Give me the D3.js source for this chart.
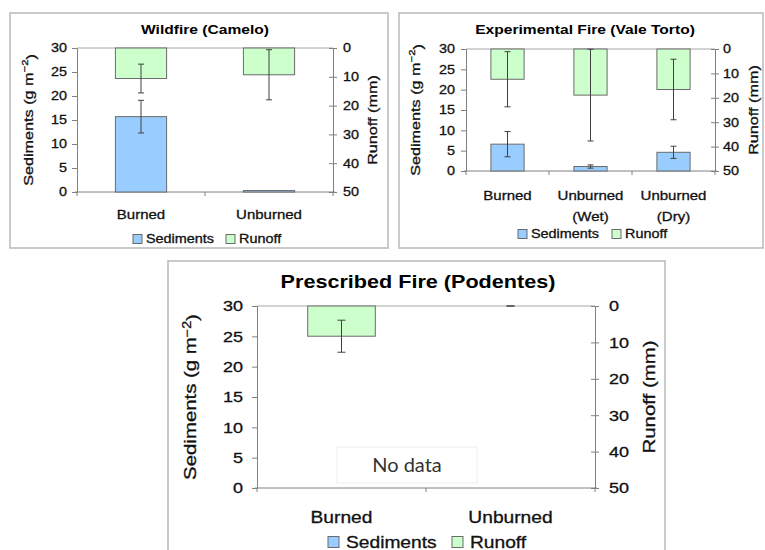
<!DOCTYPE html>
<html>
<head>
<meta charset="utf-8">
<script src="https://cdn.jsdelivr.net/npm/d3@7"></script>
<style>
  body { margin: 0; background: #fff; }
  svg { display: block; font-family: "Liberation Sans", Arial, sans-serif; }
  .lbl { stroke: #111; stroke-width: 0.3; }
</style>
</head>
<body>
<svg id="chart" width="765" height="550"></svg>
<script>
// data
var sedTicks = [0, 5, 10, 15, 20, 25, 30];
var runTicks = [0, 10, 20, 30, 40, 50];
var legendLabels = ["Sediments", "Runoff"];

var wildCats = [["Burned"], ["Unburned"]];
var wildSed = [15.7, 0.3];
var wildSedErr = [3.4, 0];
var wildRun = [10.6, 9.3];
var wildRunErr = [5.0, 8.7];

var expCats = [["Burned"], ["Unburned", "(Wet)"], ["Unburned", "(Dry)"]];
var expSed = [6.6, 1.1, 4.6];
var expSedErr = [3.1, 0.4, 1.5];
var expRun = [12.4, 18.9, 16.6];
var expRunErr = [11.3, 18.8, 12.4];

var presCats = [["Burned"], ["Unburned"]];
var presSed = [null, null];
var presSedErr = [null, null];
var presRun = [8.3, 0];
var presRunErr = [4.4, 0];

// the source text is drawn wide, so every label gets stretched along its baseline
var SX = 1.2;
var BLUE = "#99ccff", GREEN = "#ccffcc", AXIS = "#808080", ERR = "#404040";

var svg = d3.select("#chart");
svg.append("rect").attr("width", 765).attr("height", 550).attr("fill", "#fff");

function place(x, y, rot) {
    return "translate(" + x + "," + y + ")" + (rot ? " rotate(" + rot + ")" : "") + " scale(" + SX + ",1)";
}

function drawPanel(p) {
    var g = svg.append("g");

    g.append("rect")
        .attr("x", p.box[0]).attr("y", p.box[1])
        .attr("width", p.box[2] - p.box[0]).attr("height", p.box[3] - p.box[1])
        .attr("fill", "#fff").attr("stroke", "#bdbdbd").attr("stroke-width", 1.6);

    var x = d3.scaleBand().domain(d3.range(p.cats.length))
        .range([p.x0, p.x1]).paddingInner(0.6).paddingOuter(0.3);
    var ySed = d3.scaleLinear().domain([0, 30]).range([p.y1, p.y0]);
    var yRun = d3.scaleLinear().domain([0, 50]).range([p.y0, p.y1]);
    var step = (p.x1 - p.x0) / p.cats.length;

    // title
    g.append("text").attr("transform", place(p.titleX, p.titleY))
        .attr("text-anchor", "middle").attr("font-weight", "bold")
        .attr("font-size", p.fs.title).text(p.title);

    // top line (secondary category axis) and bottom category axis
    g.append("line").attr("x1", p.x0).attr("x2", p.x1).attr("y1", p.y0).attr("y2", p.y0)
        .attr("stroke", "#a8a8a8");
    g.append("line").attr("x1", p.x0 - 2).attr("x2", p.x1 + 2).attr("y1", p.y1).attr("y2", p.y1)
        .attr("stroke", AXIS);
    g.selectAll(".ctick").data(d3.range(p.cats.length + 1)).join("line")
        .attr("x1", function(i) { return p.x0 + i * step; })
        .attr("x2", function(i) { return p.x0 + i * step; })
        .attr("y1", p.y1).attr("y2", p.y1 + 4).attr("stroke", AXIS);

    // left axis
    var left = g.append("g").attr("transform", "translate(" + p.x0 + ",0)")
        .call(d3.axisLeft(ySed).tickValues(sedTicks).tickSize(5).tickPadding(p.padL));
    // right axis, reversed runoff
    var right = g.append("g").attr("transform", "translate(" + p.x1 + ",0)")
        .call(d3.axisRight(yRun).tickValues(runTicks).tickSize(4).tickPadding(p.padR));
    right.selectAll(".tick line").attr("x1", -4);

    [left, right].forEach(function(ax) {
        ax.select(".domain").attr("stroke", AXIS);
        ax.selectAll(".tick line").attr("stroke", AXIS);
        ax.selectAll(".tick text")
            .attr("class", "lbl")
            .attr("font-size", p.fs.tick).attr("font-family", null).attr("fill", "#111")
            .each(function() {
                var t = d3.select(this);
                var tx = +t.attr("x");
                t.attr("x", null).attr("transform", place(tx, 0));
            });
    });

    // axis titles
    var lt = g.append("text").attr("transform", place(p.leftTitleX, (p.y0 + p.y1) / 2, -90))
        .attr("class", "lbl")
        .attr("text-anchor", "middle").attr("dy", "0.35em")
        .attr("font-size", p.fs.axis).attr("fill", "#111");
    lt.append("tspan").text("Sediments (g m");
    lt.append("tspan").attr("dy", "-0.45em").attr("font-size", "70%").text("\u22122");
    lt.append("tspan").attr("dy", "0.45em").text(")");

    g.append("text").attr("transform", place(p.rightTitleX, (p.y0 + p.y1) / 2, -90))
        .attr("class", "lbl")
        .attr("text-anchor", "middle").attr("dy", "0.35em")
        .attr("font-size", p.fs.axis).attr("fill", "#111").text("Runoff (mm)");

    // sediment bars
    var sedIdx = d3.range(p.cats.length).filter(function(i) { return p.sed[i] != null; });
    g.selectAll(".sed").data(sedIdx).join("rect")
        .attr("x", function(i) { return x(i); })
        .attr("width", x.bandwidth())
        .attr("y", function(i) { return ySed(p.sed[i]); })
        .attr("height", function(i) { return ySed(0) - ySed(p.sed[i]); })
        .attr("fill", BLUE).attr("stroke", "#6b6b6b");

    // runoff bars hang from the top
    g.selectAll(".run").data(d3.range(p.cats.length)).join("rect")
        .attr("x", function(i) { return x(i); })
        .attr("width", x.bandwidth())
        .attr("y", yRun(0))
        .attr("height", function(i) { return yRun(p.run[i]) - yRun(0); })
        .attr("fill", GREEN).attr("stroke", "#6b6b6b")
        .attr("display", function(i) { return p.run[i] > 0 ? null : "none"; });

    // error bars
    function errBars(idx, vals, errs, scale, lo) {
        idx.forEach(function(i) {
            var cx = x(i) + x.bandwidth() / 2;
            var a = scale(Math.max(lo, vals[i] - errs[i]));
            var b = scale(vals[i] + errs[i]);
            g.append("line").attr("x1", cx).attr("x2", cx).attr("y1", a).attr("y2", b)
                .attr("stroke", ERR);
            [a, b].forEach(function(yy) {
                g.append("line").attr("x1", cx - p.cap).attr("x2", cx + p.cap)
                    .attr("y1", yy).attr("y2", yy).attr("stroke", ERR);
            });
        });
    }
    errBars(sedIdx.filter(function(i) { return p.sedErr[i] > 0; }), p.sed, p.sedErr, ySed, 0);
    errBars(d3.range(p.cats.length), p.run, p.runErr, yRun, 0);

    // category labels
    p.cats.forEach(function(lines, i) {
        var t = g.append("text").attr("transform", place(x(i) + x.bandwidth() / 2, p.catY))
            .attr("class", "lbl")
            .attr("text-anchor", "middle").attr("font-size", p.fs.cat).attr("fill", "#111");
        lines.forEach(function(s, k) {
            t.append("tspan").attr("x", 0).attr("dy", k ? p.catLine : 0).text(s);
        });
    });

    // legend
    var colors = [BLUE, GREEN];
    legendLabels.forEach(function(lab, k) {
        var lx = p.legX[k];
        g.append("rect").attr("x", lx).attr("y", p.legY - p.legSize / 2)
            .attr("width", p.legSize).attr("height", p.legSize)
            .attr("fill", colors[k]).attr("stroke", "#6b6b6b");
        g.append("text").attr("transform", place(lx + p.legSize + p.legGap, p.legY))
            .attr("class", "lbl")
            .attr("dy", "0.36em").attr("font-size", p.fs.leg).attr("fill", "#111").text(lab);
    });

    return { x: x, ySed: ySed, g: g };
}

drawPanel({
    title: "Wildfire (Camelo)", cats: wildCats,
    sed: wildSed, sedErr: wildSedErr, run: wildRun, runErr: wildRunErr,
    box: [10, 13, 388, 248], x0: 77, x1: 333, y0: 48, y1: 192,
    titleX: 205, titleY: 34, leftTitleX: 28, rightTitleX: 372,
    padL: 5, padR: 6, cap: 3, catY: 219, catLine: 21,
    legX: [133, 226], legY: 239, legSize: 9, legGap: 4,
    fs: { title: 13, tick: 12, axis: 13.5, cat: 12.5, leg: 12 }
});

drawPanel({
    title: "Experimental Fire (Vale Torto)", cats: expCats,
    sed: expSed, sedErr: expSedErr, run: expRun, runErr: expRunErr,
    box: [399, 13, 763, 248], x0: 466, x1: 715, y0: 49, y1: 171,
    titleX: 585, titleY: 34, leftTitleX: 415, rightTitleX: 753,
    padL: 6, padR: 4, cap: 3, catY: 200, catLine: 21,
    legX: [518, 612], legY: 234, legSize: 9, legGap: 4,
    fs: { title: 13, tick: 12, axis: 13.5, cat: 12.5, leg: 12 }
});

var pres = drawPanel({
    title: "Prescribed Fire (Podentes)", cats: presCats,
    sed: presSed, sedErr: presSedErr, run: presRun, runErr: presRunErr,
    box: [168, 261, 665, 580], x0: 257, x1: 595, y0: 306, y1: 488,
    titleX: 418, titleY: 288, leftTitleX: 190, rightTitleX: 649,
    padL: 9, padR: 10, cap: 4, catY: 523, catLine: 24,
    legX: [328, 452], legY: 542, legSize: 11, legGap: 7,
    fs: { title: 18, tick: 15, axis: 17, cat: 16, leg: 16 }
});

// no sediment data for the prescribed fire plots
pres.g.append("rect").attr("x", 337).attr("y", 447).attr("width", 140).attr("height", 36)
    .attr("fill", "#fff").attr("stroke", "#eeeeee");
pres.g.append("text").attr("x", 407).attr("y", 465).attr("dy", "0.35em")
    .attr("text-anchor", "middle").attr("font-family", "Lato, 'Open Sans', sans-serif")
    .attr("font-size", 20).attr("fill", "#333").text("No data");
</script>
</body>
</html>
